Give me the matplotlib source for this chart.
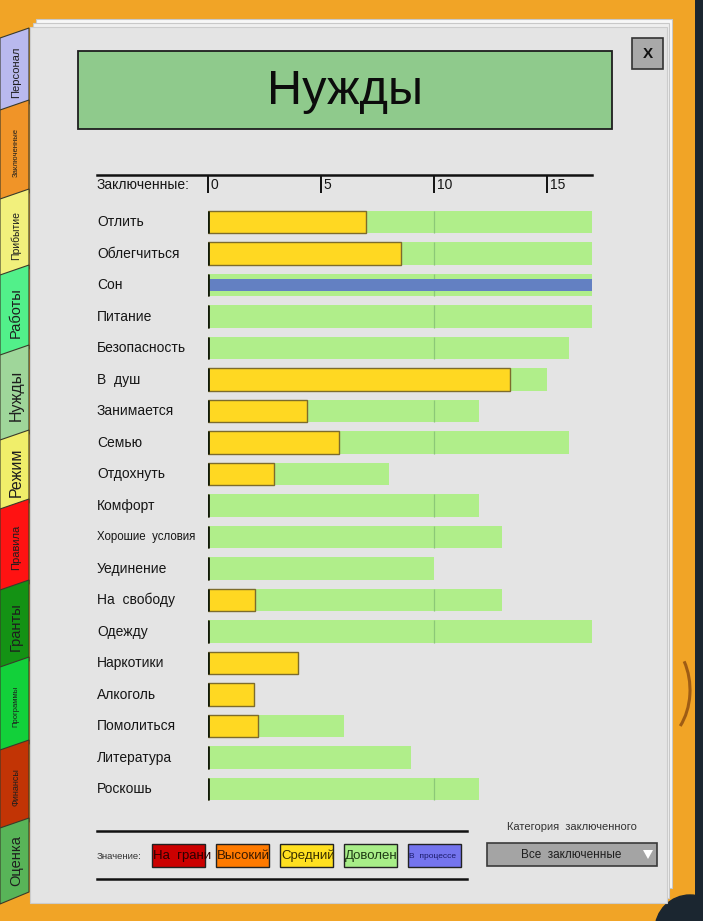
import matplotlib
matplotlib.use("Agg")
import matplotlib.pyplot as plt
from matplotlib.patches import Rectangle, Polygon, FancyBboxPatch, Arc, Ellipse
from matplotlib.transforms import blended_transform_factory

plt.rcParams['font.family'] = ['Liberation Sans', 'DejaVu Sans']

# ---------------- data ----------------
needs = ["Отлить", "Облегчиться", "Сон", "Питание", "Безопасность", "В  душ",
         "Занимается", "Семью", "Отдохнуть", "Комфорт", "Хорошие  условия",
         "Уединение", "На  свободу", "Одежду", "Наркотики", "Алкоголь",
         "Помолиться", "Литература", "Роскошь"]
# green (Доволен) bar total length
satisfied = [17, 17, 17, 17, 16, 15, 12, 16, 8, 12, 13, 10, 13, 17, 0, 0, 6, 9, 12]
# yellow (Средний) bar length
medium = [7.0, 8.55, 0, 0, 0, 13.35, 4.4, 5.8, 2.9, 0, 0, 0, 2.1, 0, 4.0, 2.05, 2.2, 0, 0]
# blue (В процессе) bar length
in_progress = [0, 0, 17, 0, 0, 0, 0, 0, 0, 0, 0, 0, 0, 0, 0, 0, 0, 0, 0]

x_ticks = [0, 5, 10, 15]
x_max = 17

legend_labels = ["На  грани", "Высокий", "Средний", "Доволен", "В  процессе"]
legend_colors = ["#cc0000", "#ff7a00", "#ffe020", "#a8ee88", "#7474ee"]
legend_text_colors = ["#2a0000", "#3a1a00", "#3a3000", "#1e3a14", "#1a1a6a"]

tab_names = ["Персонал", "Заключенные", "Прибытие", "Работы", "Нужды", "Режим",
             "Правила", "Гранты", "Программы", "Финансы", "Оценка"]
tab_colors = ["#b9b9ee", "#f09428", "#f2f07c", "#52f08a", "#9fd69a", "#f0ee6a",
              "#ff1212", "#149214", "#12d03a", "#c23405", "#58b458"]

# ---------------- figure ----------------
W, H = 703, 921
fig = plt.figure(figsize=(W / 100, H / 100), dpi=100)
bg = fig.add_axes([0, 0, 1, 1])
bg.set_xlim(0, W)
bg.set_ylim(H, 0)
bg.axis('off')

# dark desk + orange folder
bg.add_patch(Rectangle((0, 0), W, H, color="#1b2630", zorder=0))
bg.add_patch(FancyBboxPatch((-10, -10), 705, 935, boxstyle="round,pad=0,rounding_size=8",
                            fc="#f1a426", ec="none", zorder=1))
bg.add_patch(Ellipse((690, 930), 70, 70, color="#1b2630", zorder=1.5))
# coffee stain
bg.add_patch(Arc((650, 690), 80, 110, theta1=-40, theta2=50, color="#8a4a10", lw=2.2, alpha=0.8, zorder=1.6))

# paper sheets
bg.add_patch(Rectangle((36, 19), 636, 869, fc="#f7f7f7", ec="#c8c8c8", lw=0.8, zorder=2))
bg.add_patch(Rectangle((33, 23), 636, 875, fc="#efefef", ec="#c8c8c8", lw=0.8, zorder=2.2))
bg.add_patch(Rectangle((30, 27), 637, 876, fc="#e4e4e4", ec="#cccccc", lw=0.8, zorder=2.5))

# tabs
tab_tops = [28, 100, 189, 265, 345, 430, 499, 580, 657, 740, 818]
tab_bottom_end = 892
tab_sizes = [8, 5.5, 7.5, 10.5, 11.5, 11.5, 8, 10.5, 5.5, 6.5, 10.5]
for i, (name, col) in enumerate(zip(tab_names, tab_colors)):
    top = tab_tops[i]
    bot = tab_tops[i + 1] + 4 if i + 1 < len(tab_tops) else tab_bottom_end
    poly = Polygon([(0, top + 10), (29, top), (29, bot), (0, bot + 12)],
                   closed=True, fc=col, ec="#3a3a2a", lw=0.8, zorder=3 + i * 0.01)
    bg.add_patch(poly)
    bg.text(16, (top + bot) / 2 + 6, name, rotation=90, ha='center', va='center',
            fontsize=tab_sizes[i], color="#1e1e1e", zorder=3.5)

# title box
bg.add_patch(Rectangle((78, 51), 534, 78, fc="#8fca8c", ec="#1e1e1e", lw=1.3, zorder=4))
bg.text(345, 92, "Нужды", ha='center', va='center', fontsize=35, color="#0c0c0c", zorder=5)

# close button
bg.add_patch(Rectangle((632, 38), 31, 31, fc="#a9a9a9", ec="#333333", lw=1.2, zorder=4))
bg.text(647.5, 54, "X", ha='center', va='center', fontsize=11, fontweight='bold',
        color="#111111", zorder=5)

# ---------------- chart axes ----------------
row_h = 31.5
top_px = 222 - row_h / 2
bot_px = 789 + row_h / 2
x0_px, x1_px = 208, 592
ax = fig.add_axes([x0_px / W, 1 - bot_px / H, (x1_px - x0_px) / W, (bot_px - top_px) / H])
ax.set_xlim(0, x_max)
ax.set_ylim(len(needs) - 0.5, -0.5)
ax.axis('off')
ax.patch.set_alpha(0)

ys = list(range(len(needs)))
bh = 0.73
ax.barh(ys, satisfied, height=bh, color="#b0ee8a", lw=0, zorder=2)
# faint grid line at 10 inside green bars
for y, s in zip(ys, satisfied):
    if s > 10:
        ax.vlines(10, y - bh / 2, y + bh / 2, color="#8cc878", lw=0.9, zorder=2.5)
ax.barh(ys, in_progress, height=0.38, color="#6380c2", lw=0, zorder=3)
ax.barh(ys, medium, height=bh, color="#ffd822", edgecolor="#7d6c2c", lw=1.0, zorder=4)
ax.vlines([0] * len(ys), [y - bh / 2 for y in ys], [y + bh / 2 for y in ys],
          color="#111a08", lw=2.0, zorder=5)

# row labels
tr_lab = blended_transform_factory(bg.transData, ax.transData)
for y, name in zip(ys, needs):
    fs = 8.3 if len(name) > 14 else 10
    ax.text(97, y, name, transform=tr_lab, ha='left', va='center', fontsize=fs,
            color="#161616", zorder=6)

# header scale
tr_head = blended_transform_factory(ax.transData, bg.transData)
bg.plot([97, x1_px], [175, 175], color="#111111", lw=1.8, zorder=5)
bg.text(97, 185, "Заключенные:", ha='left', va='center', fontsize=10, color="#161616", zorder=6)
ax.vlines(x_ticks, 176, 193, transform=tr_head, color="#111111", lw=1.4, clip_on=False)
for t in x_ticks:
    ax.text(t + 0.12, 185, str(t), transform=tr_head, ha='left', va='center',
            fontsize=10, color="#161616", clip_on=False)

# ---------------- bottom legend ----------------
bg.plot([97, 467], [831, 831], color="#111111", lw=1.8, zorder=5)
bg.plot([97, 467], [879, 879], color="#111111", lw=1.8, zorder=5)
bg.text(97, 856, "Значение:", ha='left', va='center', fontsize=6.8, color="#333333", zorder=6)
lx = 152
for lab, col, tcol in zip(legend_labels, legend_colors, legend_text_colors):
    r = Rectangle((lx, 844), 53, 23, fc=col, ec="#222222", lw=1.0, zorder=5)
    bg.add_patch(r)
    fs = 6 if "процессе" in lab else 9.5
    t = bg.text(lx + 1, 856, lab, ha='left', va='center', fontsize=fs, color=tcol, zorder=6)
    t.set_clip_path(r)
    lx += 64

bg.text(572, 827, "Категория  заключенного", ha='center', va='center', fontsize=8,
        color="#333333", zorder=6)
bg.add_patch(Rectangle((487, 843), 170, 23, fc="#a4a4a4", ec="#3a3a3a", lw=1.2, zorder=5))
bg.text(571, 855, "Все  заключенные", ha='center', va='center', fontsize=8.5,
        color="#1e1e1e", zorder=6)
bg.add_patch(Polygon([(643, 850), (653, 850), (648, 859)], closed=True, fc="white", ec="none", zorder=6))

fig.savefig("out.png", dpi=100)
